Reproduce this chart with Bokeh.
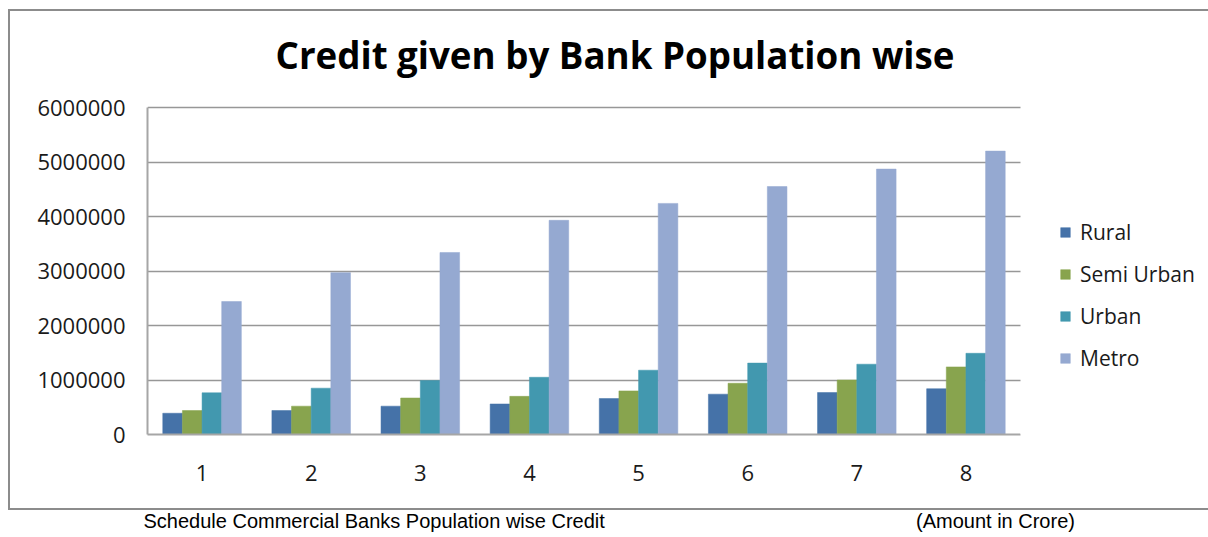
from bokeh.plotting import figure
from bokeh.models import (ColumnDataSource, Range1d, Legend, LegendItem, BoxAnnotation, Title,
                          SingleIntervalTicker, FixedTicker, NumeralTickFormatter)
from bokeh.transform import dodge
from bokeh.embed import file_html
from bokeh.resources import INLINE

categories = ["1", "2", "3", "4", "5", "6", "7", "8"]
rural = [390000, 440000, 520000, 560000, 660000, 740000, 770000, 840000]
semi_urban = [440000, 520000, 670000, 700000, 800000, 940000, 1000000, 1240000]
urban = [765000, 850000, 990000, 1050000, 1180000, 1310000, 1290000, 1490000]
metro = [2440000, 2970000, 3340000, 3930000, 4240000, 4550000, 4870000, 5200000]
series_names = ["Rural", "Semi Urban", "Urban", "Metro"]
colors = ["#4572A8", "#88A44E", "#4298AF", "#95A9D1"]

title_text = "Credit given by Bank Population wise"
note_left = "Schedule Commercial Banks Population wise Credit"
note_right = "(Amount in Crore)"

x_pos = [i + 1 for i in range(len(categories))]
src = ColumnDataSource(dict(x=x_pos, rural=rural, semi=semi_urban, urban=urban, metro=metro))

frame_css = ("linear-gradient(#8c8c8c,#8c8c8c) 8px 9px / 2px 501px no-repeat, "
             "linear-gradient(#8c8c8c,#8c8c8c) 8px 9px / 1200px 2px no-repeat, "
             "linear-gradient(#8c8c8c,#8c8c8c) 8px 508px / 1200px 2px no-repeat")

# plot area: categories occupy 873px of a 1061px-wide frame; the rest holds the legend
x_end = 0.5 + len(categories) * 1061 / 873
p = figure(x_range=Range1d(0.5, x_end), y_range=Range1d(0, 6036700),
           width=1208, height=537, output_backend="svg", toolbar_location=None,
           min_border_left=147, min_border_top=105, min_border_right=0, min_border_bottom=103,
           styles={"background": frame_css})
p.outline_line_color = None
p.background_fill_color = "white"
p.border_fill_alpha = 0

cols = ["rural", "semi", "urban", "metro"]
offsets = [-0.27, -0.09, 0.09, 0.27]
renderers = []
for c, off, col in zip(cols, offsets, colors):
    r = p.vbar(x=dodge("x", off), top=c, width=0.18, source=src,
               fill_color=col, line_color=col, line_width=0.5)
    renderers.append(r)

# title
p.title.text = title_text
p.title.text_font = "Open Sans"
p.title.text_font_style = "bold"
p.title.text_font_size = "36.7px"
p.title.text_color = "#000000"
p.title.align = "left"
p.title.offset = 128
p.title.standoff = 52

# axes
p.yaxis.ticker = SingleIntervalTicker(interval=1000000)
p.yaxis.formatter = NumeralTickFormatter(format="0")
p.yaxis.bounds = (0, 6000000)
p.xaxis.ticker = FixedTicker(ticks=x_pos)
p.xaxis.major_label_overrides = {x: c for x, c in zip(x_pos, categories)}
p.xaxis.bounds = (0.5, len(categories) + 0.5)
for ax in (p.xaxis[0], p.yaxis[0]):
    ax.major_tick_line_color = None
    ax.minor_tick_line_color = None
    ax.major_tick_out = 0
    ax.major_tick_in = 0
    ax.minor_tick_out = 0
    ax.axis_line_color = "#a6a6a6"
    ax.axis_line_width = 2
    ax.major_label_text_font = "Open Sans"
    ax.major_label_text_font_size = "22px"
    ax.major_label_text_color = "#1a1a1a"
p.yaxis.major_label_standoff = 22
p.xaxis.major_label_standoff = 30
p.xgrid.grid_line_color = None
p.ygrid.grid_line_color = "#979797"
p.ygrid.grid_line_width = 1.5

# spacer between the tick labels and the note line
p.xaxis.axis_label = "\u00a0"
p.xaxis.axis_label_text_font_size = "1px"
p.xaxis.axis_label_standoff = 20

# note line below the chart frame (two texts on one line)
note = Title(text=note_left + "\u00a0" * 56 + note_right, align="left", offset=-4,
             text_font="Liberation Sans", text_font_size="20px", text_font_style="normal",
             text_color="#000000", standoff=0)
p.add_layout(note, "below")

# blank the legend area to the right of the plot area
p.add_layout(BoxAnnotation(left=len(categories) + 0.5, fill_color="white", fill_alpha=1,
                           line_color=None))

# legend
items = [LegendItem(label=n, renderers=[r]) for n, r in zip(series_names, renderers)]
legend = Legend(items=items, location=(912, 62), orientation="vertical",
                glyph_width=12, glyph_height=12, label_standoff=9, spacing=14,
                padding=0, margin=0, border_line_color=None, background_fill_alpha=0,
                label_text_font="Open Sans", label_text_font_size="21px",
                label_text_color="#1a1a1a", label_height=20)
p.add_layout(legend, "center")

open("out.html", "w").write(file_html(p, INLINE))
